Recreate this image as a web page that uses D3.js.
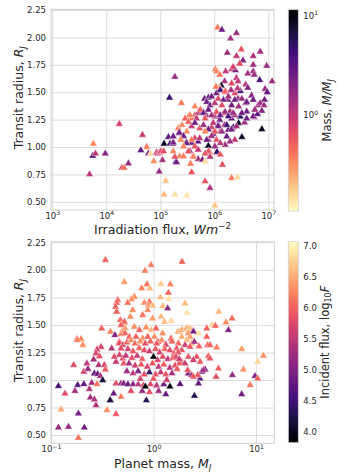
<!DOCTYPE html>
<html>
<head>
<meta charset="utf-8">
<script src="https://cdn.jsdelivr.net/npm/d3@7"></script>
<style>
  html, body { margin: 0; padding: 0; background: #fff; }
  svg { display: block; }
</style>
</head>
<body>
<svg id="chart" width="349" height="472"></svg>
<script>
// ---- data ----
// top panel: [log10 irradiation flux (W m^-2), transit radius (R_J), mass (M_J)]
const fluxRadiusMass = [
  [3.69,0.75,1.0],[3.76,1.03,0.35],[3.75,0.92,4.0],[3.80,0.94,1.0],[3.98,0.94,2.0],
  [4.24,1.21,0.8],[4.29,0.81,0.75],[4.33,0.81,0.45],[4.41,0.85,1.6],[4.67,1.11,0.9],
  [4.64,0.97,3.0],[4.75,1.00,0.4],[4.78,0.94,2.2],[4.82,0.94,0.15],[4.88,0.87,0.33],
  [4.98,0.775,1.6],[4.93,0.95,0.8],[4.95,0.94,0.9],[4.99,0.95,0.85],[5.01,0.96,0.7],
  [5.04,0.88,1.3],[5.07,1.03,9.0],[5.06,0.96,0.65],[5.10,0.69,0.2],[5.07,0.565,0.22],
  [5.27,0.565,0.15],[5.49,0.556,0.14],[5.17,1.45,4.5],[5.15,1.09,3.0],[5.18,1.03,4.5],
  [5.23,1.03,2.5],[5.24,0.96,0.35],[5.27,1.64,1.5],[5.39,1.40,0.4],[5.82,1.44,2.5],
  [5.24,1.096,2.5],[5.24,1.041,2.2],[5.36,1.126,2.5],[5.41,1.096,1.0],[5.475,1.035,8.0],
  [5.58,1.035,2.5],[5.64,1.08,0.7],[5.70,1.05,3.0],[5.89,1.01,9.0],[5.29,0.868,5.0],
  [5.36,0.914,0.35],[5.43,0.914,0.4],[5.55,0.959,1.5],[5.61,0.914,1.0],[5.70,0.89,1.4],
  [5.78,0.883,2.2],[5.56,0.847,0.4],[5.58,0.768,0.6],[5.52,1.277,0.35],[5.58,1.26,0.4],
  [5.64,1.29,0.6],[5.70,1.31,1.0],[5.79,1.32,2.5],[5.85,1.29,1.5],
  [6.88,1.162,9.0],[6.51,1.09,8.0],[6.38,1.065,1.0],[6.45,1.217,8.0],[6.48,1.277,5.0],
  [6.56,1.223,1.5],[6.74,1.271,1.5],[6.23,1.096,2.5],[6.20,1.02,1.5],[6.04,0.95,0.3],
  [6.05,0.955,5.0],[5.92,0.95,0.4],[5.89,0.96,0.6],[5.83,0.868,0.15],[6.15,0.838,0.6],
  [6.32,0.717,0.4],[6.43,0.723,0.15],[5.83,0.687,0.6],[5.92,0.626,1.3],[6.01,0.465,0.2],
  [6.01,1.277,1.3],[6.10,1.247,2.5],[6.17,1.307,0.6],[6.29,1.323,1.3],[6.32,1.26,2.5],
  [6.19,1.20,1.3],[6.07,1.20,2.5],[5.95,1.18,0.8],[5.98,1.12,2.5],[6.11,1.14,0.7],
  [5.89,1.065,1.3],[6.26,1.156,2.5],[6.35,1.18,3.0],[6.60,1.323,2.5],[6.38,1.29,1.4],
  [6.06,2.09,0.4],[6.14,2.07,2.5],[6.41,2.04,1.5],[6.30,1.99,1.3],[6.24,1.86,1.5],
  [6.50,1.89,0.6],[6.41,1.83,1.0],[6.72,1.83,1.3],[6.85,1.87,1.5],[6.53,1.79,2.0],
  [6.47,1.76,0.7],[6.72,1.75,1.5],[6.97,1.74,1.5],[6.02,1.71,0.4],[6.04,1.69,0.35],
  [6.21,1.69,1.0],[6.32,1.71,0.9],[6.39,1.70,2.0],[6.35,1.73,0.8],[6.62,1.67,1.5],
  [6.72,1.69,1.6],[6.74,1.66,1.5],[6.10,1.66,0.4],[6.41,1.63,1.0],[6.19,1.60,1.3],
  [6.32,1.58,0.7],[6.44,1.60,1.0],[6.84,1.61,4.0],[7.07,1.60,1.5],[6.13,1.56,8.0],
  [6.10,1.54,0.4],[6.58,1.57,1.0],[6.62,1.54,2.0],[6.94,1.53,1.5],[6.98,1.50,3.0],
  [6.48,1.51,4.0],[6.04,1.49,2.5],[6.22,1.50,0.6],[6.38,1.49,0.7],[6.69,1.47,2.0],
  [6.93,1.43,2.5],[5.89,1.45,3.0],[6.25,1.43,2.0],[6.44,1.44,1.3],[6.58,1.40,1.5],
  [6.81,1.38,1.5],
  [6.03,1.55,0.4],[6.43,1.535,1.0],[5.86,1.41,2.5],[5.92,1.38,2.5],[6.11,1.52,4.0],
  [6.20,1.505,0.5],[6.31,1.52,1.3],[5.95,1.46,2.5],[6.07,1.44,0.7],[6.17,1.43,2.5],
  [6.26,1.46,1.5],[6.38,1.43,2.5],[6.51,1.44,1.5],[6.60,1.41,2.5],[6.72,1.43,2.5],
  [6.85,1.40,1.5],[6.72,1.28,2.5],[6.01,1.40,1.0],[6.14,1.38,0.7],[6.32,1.38,2.5],
  [6.45,1.37,1.5],[5.64,1.37,0.35],[5.74,1.34,0.5],[5.80,1.31,2.5],[5.89,1.34,2.5],
  [5.95,1.29,1.5],[6.04,1.32,0.6],[6.11,1.29,2.5],[6.20,1.32,1.5],[6.26,1.28,4.0],
  [6.35,1.31,1.5],[6.51,1.31,2.5],[6.60,1.26,2.5],[5.55,1.29,0.35],[5.46,1.26,0.5],
  [5.67,1.26,1.0],[5.83,1.26,0.6],[5.33,1.17,0.35],[5.40,1.20,0.35],[5.52,1.23,0.5],
  [5.58,1.19,1.0],[5.35,1.13,2.5],[5.64,1.22,2.5],[5.73,1.17,0.6],[5.80,1.20,1.5],
  [5.89,1.16,2.5],[5.98,1.22,1.0],[6.07,1.19,2.5],[6.14,1.14,1.5],[6.23,1.20,4.0],
  [6.32,1.16,2.5],[6.41,1.19,1.5],[6.01,1.14,0.6],[5.83,1.14,0.35],[5.49,1.14,0.35],
  [5.43,1.10,2.5],[5.38,1.065,0.35],[5.49,1.035,2.5],[5.58,1.065,0.4],[5.64,1.005,0.6],
  [5.73,1.08,1.0],[5.86,1.065,2.5],[5.95,1.10,1.5],[6.04,1.065,0.6],[6.11,1.035,1.0],
  [6.29,1.05,1.5],[6.01,1.005,1.5],[5.43,1.005,0.35],[5.52,0.96,0.6],[5.61,0.91,0.35],
  [5.70,0.975,1.0],[5.83,0.94,0.6],[5.92,0.91,1.0],[6.11,0.93,0.6],[5.30,0.86,2.5],
  [5.27,0.91,0.6],[6.92,1.38,1.5],[6.88,1.33,2.0],[6.80,1.30,3.0],[6.75,1.34,1.5]
];

// bottom panel: [log10 planet mass (M_J), transit radius (R_J), log10 incident flux]
const massRadiusFlux = [
  [-0.47,2.09,6.0],[-0.285,1.89,6.4],[-0.35,1.726,6.0],[-0.36,1.70,5.95],[-0.37,1.665,6.0],
  [-0.36,1.62,6.0],[-0.324,1.544,6.05],[-0.285,1.513,6.3],[-0.506,1.468,6.0],[-0.42,1.438,6.2],
  [-0.376,1.407,5.0],[-0.317,1.417,6.2],[-0.30,1.45,6.3],[-0.278,1.47,6.4],[-0.746,1.371,5.9],
  [-0.707,1.371,6.2],[-0.333,1.346,5.9],
  [-0.024,2.044,6.2],[0.278,2.074,6.0],[-0.083,1.992,6.2],[0.073,1.871,6.7],[0.164,1.868,6.2],
  [-0.063,1.868,6.1],[-0.115,1.832,6.2],[-0.037,1.832,6.6],[0.145,1.792,6.0],[-0.187,1.756,6.3],
  [-0.213,1.732,6.3],[-0.252,1.701,6.1],[0.067,1.75,6.6],[0.148,1.735,6.9],[0.307,1.695,6.6],
  [-0.09,1.701,6.3],[-0.04,1.71,6.1],[-0.05,1.677,6.3],[-0.008,1.674,6.6],[0.09,1.671,6.6],
  [0.138,1.65,5.1],[0.327,1.61,6.9],[-0.203,1.635,6.3],[-0.057,1.635,6.3],[-0.106,1.589,6.1],
  [-0.008,1.559,6.4],[0.073,1.574,6.6],[0.106,1.529,6.6],[0.171,1.535,6.8],[-0.226,1.574,6.3],
  [-0.285,1.529,6.0],[-0.317,1.498,6.0],[-0.187,1.483,6.3],[-0.138,1.453,6.0],[-0.073,1.477,6.3],
  [-0.024,1.453,6.6],[0.024,1.468,6.0],[0.089,1.423,6.3],[0.171,1.377,6.0],[0.252,1.438,6.6],
  [0.285,1.453,6.6],[0.334,1.468,6.3],[0.366,1.453,6.3],[0.382,1.453,6.6],[0.425,1.423,6.9],
  [-0.278,1.423,6.0],[-0.236,1.392,6.0],[-0.171,1.392,6.0],[-0.106,1.377,6.3],[-0.057,1.392,6.0],
  [0.008,1.392,6.3],[0.047,1.346,6.0],
  [0.636,1.62,6.6],[0.766,1.559,6.1],[0.707,1.523,6.3],[0.571,1.498,6.8],[0.603,1.492,6.0],
  [0.519,1.468,6.0],[0.73,1.453,5.0],[0.44,1.422,6.9],[0.528,1.316,6.0],
  [0.24,1.437,6.5],[0.275,1.453,6.5],[0.32,1.468,6.5],[0.356,1.468,6.6],[0.372,1.44,6.5],
  [0.34,1.423,6.3],[0.275,1.392,6.5],[0.356,1.392,6.4],[0.324,1.362,6.6],[0.372,1.332,6.4],
  [0.389,1.44,4.9],[0.519,1.392,6.0],[0.551,1.317,6.0],[0.616,1.295,6.2],[0.444,1.307,6.0],
  [0.398,1.347,5.3],[0.307,1.317,5.6],[0.356,1.301,5.9],[0.275,1.271,5.9],[0.242,1.332,6.0],
  [0.226,1.286,5.9],[0.86,1.28,6.4],[1.072,1.22,6.3],[1.016,1.165,6.8],[0.876,1.095,6.3],
  [0.769,1.044,5.2],[0.99,1.035,5.0],[1.016,1.013,6.0],[0.942,0.953,6.1],[0.86,0.871,4.9],
  [0.633,1.104,6.0],[0.61,1.029,5.8],[0.503,1.095,5.0],[0.47,1.075,4.9],[0.486,1.089,5.3],
  [0.454,1.013,4.8],[0.438,0.968,4.8],[0.431,1.044,5.9],[0.34,1.059,5.0],[0.372,1.044,5.3],
  [0.333,1.09,5.9],[0.275,1.165,5.9],[0.307,1.15,5.6],[0.249,1.15,5.9],[0.34,1.21,5.9],
  [0.421,1.21,5.9],[0.389,1.18,5.6],[0.535,1.216,6.0],[0.454,1.165,5.9],[0.551,1.195,5.9],
  [0.389,1.029,5.9],[0.259,0.962,4.7],[0.399,0.856,4.3],
  [-0.74,1.362,6.2],[-0.69,1.317,6.3],[-0.512,1.30,5.7],[-0.551,1.277,5.7],[-0.561,1.241,5.7],
  [-0.528,1.216,5.8],[-0.584,1.186,5.3],[-0.535,1.135,5.4],[-0.48,1.135,5.7],[-0.779,1.135,5.8],
  [-0.408,1.286,5.4],[-0.333,1.332,5.8],[-0.30,1.317,5.7],[-0.317,1.286,5.8],[-0.333,1.226,5.7],
  [-0.30,1.195,5.8],[-0.366,1.165,5.6],[-0.382,1.21,5.8],[-0.291,1.15,5.9],[-0.577,1.059,4.8],
  [-0.545,1.053,4.8],[-0.519,1.035,5.3],[-0.496,0.998,4.2],[-0.603,0.974,5.3],[-0.551,0.962,6.1],
  [-0.47,1.095,5.9],[-0.366,0.968,5.8],[-0.317,0.968,5.3],[-0.291,0.968,5.0],[-0.928,0.944,4.6],
  [-0.863,0.877,5.8],[-0.74,0.953,4.7],[-0.68,0.962,4.8],[-0.766,0.90,5.3],[-0.626,0.917,5.4],
  [-0.616,0.84,5.3],[-0.577,0.823,5.4],[-0.561,0.77,5.4],[-0.421,0.817,4.1],[-0.389,0.877,4.8],
  [-0.317,0.847,6.2],[-0.902,0.732,6.5],[-0.733,0.695,4.9],[-0.454,0.726,6.3],[-0.366,0.69,5.9],
  [-0.928,0.568,5.2],[-0.83,0.574,5.2],[-0.675,0.568,4.9],[-0.733,0.474,6.1],
  [-0.65,1.15,5.5],[-0.68,1.075,5.7],[-0.64,1.10,5.2],
  [-0.26,1.34,6.0],[-0.22,1.36,6.3],[-0.18,1.33,6.1],[-0.13,1.35,6.3],[-0.08,1.33,5.8],
  [-0.03,1.35,6.0],[0.03,1.33,5.9],[0.08,1.36,6.3],[0.12,1.32,5.7],[0.18,1.35,6.0],
  [-0.25,1.28,5.7],[-0.20,1.26,5.9],[-0.14,1.29,6.0],[-0.09,1.27,5.8],[-0.04,1.26,5.6],
  [0.02,1.28,5.9],[0.06,1.25,5.7],[0.11,1.28,6.0],[0.16,1.27,5.8],[0.20,1.24,5.9],
  [-0.27,1.22,5.5],[-0.21,1.20,5.8],[-0.16,1.22,5.6],[-0.11,1.19,5.9],[0.04,1.18,5.7],
  [0.09,1.21,5.8],[0.14,1.19,5.5],[0.19,1.20,5.9],[-0.24,1.15,5.3],[-0.18,1.13,5.6],
  [-0.12,1.14,5.9],[-0.06,1.12,5.7],[-0.01,1.15,5.9],[0.05,1.12,5.5],[0.10,1.14,5.9],
  [0.16,1.11,5.4],[0.21,1.13,5.8],[-0.26,1.08,5.2],[-0.20,1.06,5.5],[-0.15,1.08,5.0],
  [-0.09,1.05,5.8],[-0.04,1.07,4.4],[0.02,1.05,5.8],[0.07,1.07,5.6],[0.12,1.05,5.9],
  [0.18,1.06,5.3],[-0.25,0.96,4.8],[-0.20,0.96,5.1],[-0.15,0.96,5.5],[-0.10,0.95,5.8],
  [-0.03,0.96,5.8],[0.03,0.95,5.5],[0.10,0.96,4.9],[-0.22,0.90,5.8],[-0.11,0.90,5.2],
  [-0.04,0.89,5.8],[0.05,0.90,5.3],[0.12,0.87,4.8],[0.0,1.01,5.9],[-0.13,1.01,5.7],
  [0.13,1.00,5.6],[0.24,1.25,5.9],[0.22,1.21,5.8],[0.25,1.19,5.6],[0.23,1.10,5.9],
  [-0.07,0.815,4.3],[-0.424,0.815,4.2],[0.00,1.21,3.9],[-0.08,0.94,3.9],[0.16,0.94,3.9]
];

// tick values
const fluxTicks = [1e3, 1e4, 1e5, 1e6, 1e7];
const massTicks = [0.1, 1, 10];
const radiusTicks = [0.5, 0.75, 1.0, 1.25, 1.5, 1.75, 2.0, 2.25];
const massBarTicks = [1, 10];
const fluxBarTicks = [4.0, 4.5, 5.0, 5.5, 6.0, 6.5, 7.0];

(function () {
  const FONT = '"DejaVu Sans", sans-serif';
  const INK = "#262626";
  const GRID = "#dddddd";
  const SPINE = "#d0d0d0";
  const TICK_PX = 8.5;
  const TITLE_PX = 12.5;
  const BAR_TITLE_PX = 11.5;

  const svg = d3.select("#chart").attr("font-family", FONT);
  const defs = svg.append("defs");

  // superscript powers of ten for log ticks
  function pow10(text, v) {
    const e = Math.round(Math.log10(v));
    text.text(null);
    text.append("tspan").text("10");
    text.append("tspan").attr("dy", -3.6).attr("font-size", 6.2).text(String(e).replace("-", "\u2212"));
  }

  // text made of plain / italic / sub / sup pieces
  function rich(text, parts, size) {
    let cur = 0;
    parts.forEach((p) => {
      const off = p.sup ? -0.38 * size : p.sub ? 0.25 * size : 0;
      text.append("tspan")
        .attr("dy", off - cur)
        .attr("font-size", p.sup || p.sub ? size * 0.7 : size)
        .attr("font-style", p.it ? "italic" : null)
        .text(p.t);
      cur = off;
    });
  }

  function drawPanel(o) {
    const g = svg.append("g");
    const [x0, x1] = o.x.range();
    const [yb, yt] = o.y.range();

    const ya = g.append("g").attr("transform", `translate(${x0},0)`)
      .call(d3.axisLeft(o.y).tickValues(radiusTicks).tickFormat(d3.format(".2f"))
        .tickSize(-(x1 - x0)).tickPadding(5));
    const xa = g.append("g").attr("transform", `translate(0,${yb})`)
      .call(d3.axisBottom(o.x).tickValues(o.xTicks).tickFormat(() => "")
        .tickSize(-(yb - yt)).tickPadding(3));
    [ya, xa].forEach((a) => {
      a.attr("font-family", FONT).attr("font-size", TICK_PX);
      a.select(".domain").remove();
      a.selectAll(".tick line").attr("stroke", GRID).attr("stroke-width", 1);
      a.selectAll(".tick text").attr("fill", INK);
    });
    xa.selectAll(".tick text").each(function (d) { pow10(d3.select(this), d); });

    g.append("rect")
      .attr("x", x0).attr("y", yt).attr("width", x1 - x0).attr("height", yb - yt)
      .attr("fill", "none").attr("stroke", SPINE).attr("stroke-width", 1);

    g.append("g").selectAll("path").data(o.points).join("path")
      .attr("d", d3.symbol(d3.symbolTriangle, 25))
      .attr("transform", (d) => `translate(${o.x(d.x)},${o.y(d.y)})`)
      .attr("fill", (d) => o.color(d.c))
      .attr("stroke", "#fff").attr("stroke-width", 0.4);

    // axis titles
    rich(g.append("text").attr("x", (x0 + x1) / 2).attr("y", o.xTitleY)
      .attr("text-anchor", "middle").attr("fill", INK), o.xTitle, TITLE_PX);
    rich(g.append("text")
      .attr("transform", `translate(22.5,${(yt + yb) / 2 - 12}) rotate(-90)`)
      .attr("text-anchor", "middle").attr("fill", INK),
      [{ t: "Transit radius, " }, { t: "R", it: true }, { t: "J", it: true, sub: true }], TITLE_PX);
  }

  function drawColorbar(o) {
    const [yb, yt] = o.scale.range();
    const id = o.id;
    const grad = defs.append("linearGradient").attr("id", id)
      .attr("x1", 0).attr("y1", 0).attr("x2", 0).attr("y2", 1);
    d3.range(0, 1.0001, 0.02).forEach((t) => {
      grad.append("stop").attr("offset", t)
        .attr("stop-color", o.color(o.scale.invert(yt + t * (yb - yt))));
    });
    const g = svg.append("g");
    g.append("rect").attr("x", o.x).attr("y", yt).attr("width", o.w).attr("height", yb - yt)
      .attr("fill", `url(#${id})`).attr("stroke", SPINE).attr("stroke-width", 0.8);
    const ax = g.append("g").attr("transform", `translate(${o.x + o.w},0)`)
      .call(d3.axisRight(o.scale).tickValues(o.ticks).tickSize(0).tickPadding(5)
        .tickFormat(o.format || (() => "")));
    ax.attr("font-family", FONT).attr("font-size", TICK_PX);
    ax.select(".domain").remove();
    ax.selectAll(".tick text").attr("fill", INK);
    if (o.pow) ax.selectAll(".tick text").each(function (d) { pow10(d3.select(this), d); });
    rich(g.append("text")
      .attr("transform", `translate(${o.labelX},${(yt + yb) / 2}) rotate(-90)`)
      .attr("text-anchor", "middle").attr("fill", INK), o.label, BAR_TITLE_PX);
  }

  // ---- top: radius vs irradiation flux, coloured by mass ----
  const xTop = d3.scaleLog().domain([10 ** 2.976, 10 ** 7.105]).range([51, 274]);
  const yTop = d3.scaleLinear().domain([0.425, 2.256]).range([210, 9.4]);
  const massBar = d3.scaleLog().domain([0.108, 11.5]).range([211, 9.7]);
  const massColor = (m) => d3.interpolateMagma(1 - (Math.log10(m) - Math.log10(0.108)) /
    (Math.log10(11.5) - Math.log10(0.108)));

  drawPanel({
    x: xTop, y: yTop, xTicks: fluxTicks,
    points: fluxRadiusMass.map((d) => ({ x: 10 ** d[0], y: d[1], c: d[2] })),
    color: massColor,
    xTitleY: 234,
    xTitle: [{ t: "Irradiation flux, " }, { t: "Wm", it: true }, { t: "\u22122", sup: true }]
  });
  drawColorbar({
    id: "gradMass", scale: massBar, x: 288.3, w: 10, ticks: massBarTicks, pow: true,
    color: massColor, labelX: 331,
    label: [{ t: "Mass, " }, { t: "M/M", it: true }, { t: "J", it: true, sub: true }]
  });

  // ---- bottom: radius vs planet mass, coloured by incident flux ----
  const xBot = d3.scaleLog().domain([0.1, 10 ** 1.178]).range([51, 274.3]);
  const yBot = d3.scaleLinear().domain([0.425, 2.256]).range([443.3, 241.7]);
  const fluxBar = d3.scaleLinear().domain([3.82, 7.065]).range([442.7, 241.7]);
  const fluxColor = (f) => d3.interpolateMagma((f - 3.82) / (7.065 - 3.82));

  drawPanel({
    x: xBot, y: yBot, xTicks: massTicks,
    points: massRadiusFlux.map((d) => ({ x: 10 ** d[0], y: d[1], c: d[2] })),
    color: fluxColor,
    xTitleY: 467.5,
    xTitle: [{ t: "Planet mass, " }, { t: "M", it: true }, { t: "J", it: true, sub: true }]
  });
  drawColorbar({
    id: "gradFlux", scale: fluxBar, x: 288.3, w: 10, ticks: fluxBarTicks,
    format: d3.format(".1f"), color: fluxColor, labelX: 328.5,
    label: [{ t: "Incident flux, " }, { t: "log" }, { t: "10", sub: true }, { t: "F", it: true }]
  });
})();
</script>
</body>
</html>
